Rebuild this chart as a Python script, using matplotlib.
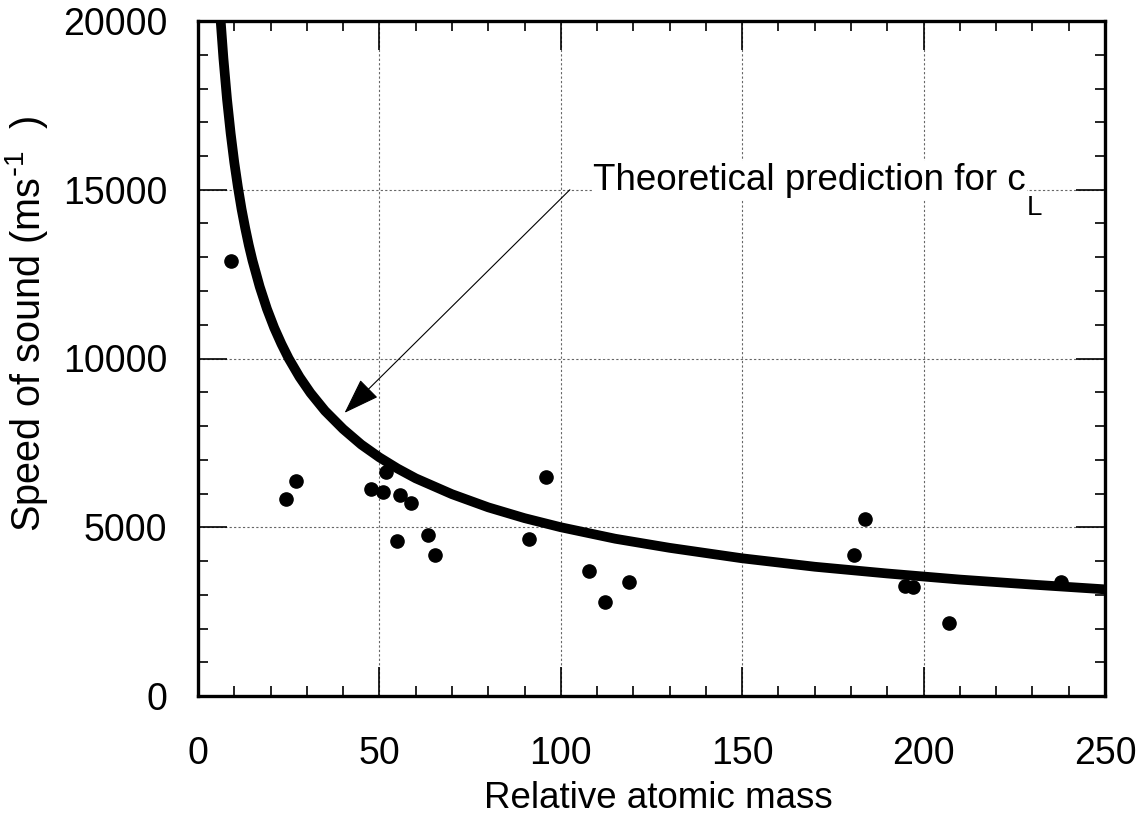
import matplotlib
matplotlib.use("Agg")
import matplotlib.pyplot as plt
from matplotlib.ticker import MultipleLocator

plt.rcParams['font.family'] = ['Liberation Sans', 'DejaVu Sans']
plt.rcParams['mathtext.default'] = 'regular'

# Measured data (relative atomic mass, speed of sound in m/s)
mass = [9.0, 24.3, 26.9, 47.8, 51.0, 51.9, 55.8, 58.6, 54.9, 63.4, 65.3,
        96.0, 91.3, 107.9, 112.3, 118.7,
        183.8, 180.8, 194.9, 197.0, 207.1, 237.9]
speed = [12890, 5830, 6380, 6120, 6035, 6630, 5955, 5710, 4600, 4760, 4190,
         6490, 4660, 3700, 2785, 3380,
         5245, 4170, 3260, 3240, 2175, 3390]

# Theoretical prediction curve
curve_mass = [6.25, 7, 8, 9, 10, 11, 12, 13, 14, 15, 17, 19, 21, 23, 25, 28, 31,
              35, 40, 45, 50, 55, 60, 70, 80, 90, 100, 115, 130, 150, 170, 190,
              210, 230, 250]
curve_speed = [20000, 18900, 17680, 16670, 15810, 15080, 14430, 13870, 13360,
               12910, 12130, 11470, 10910, 10430, 10000, 9450, 8980, 8450, 7910,
               7450, 7070, 6740, 6450, 5980, 5590, 5270, 5000, 4660, 4390, 4080,
               3830, 3630, 3450, 3300, 3160]

x_ticks = [0, 50, 100, 150, 200, 250]
y_ticks = [0, 5000, 10000, 15000, 20000]

fig = plt.figure(figsize=(11.44, 8.18), dpi=100)
ax = fig.add_axes([198/1144, 1-696/818, (1105-198)/1144, (696-21)/818])

ax.plot(curve_mass, curve_speed, color='black', lw=7, solid_capstyle='butt',
        solid_joinstyle='round', zorder=3)
ax.plot(mass, speed, 'o', color='black', ms=9.5, zorder=4)

ax.set_xlim(0, 250)
ax.set_ylim(0, 20000)
ax.set_xticks(x_ticks)
ax.set_yticks(y_ticks)
ax.xaxis.set_minor_locator(MultipleLocator(10))
ax.yaxis.set_minor_locator(MultipleLocator(1000))

ax.grid(True, which='major', color='#666666', lw=0.8, linestyle=(0, (2, 2)), zorder=1)
ax.tick_params(which='both', direction='in', top=True, right=True, width=1.2,
               colors='black')
ax.tick_params(which='major', length=21, labelsize=27)
ax.tick_params(axis='x', which='major', pad=29)
ax.tick_params(axis='y', which='major', pad=22)
ax.tick_params(which='minor', length=7)
for s in ax.spines.values():
    s.set_linewidth(2.4)

ax.set_xlabel('Relative atomic mass', fontsize=26.5)
ax.xaxis.set_label_coords(0.508, -0.126)
ax.set_ylabel(r'Speed of sound (ms$^{\text{-}1}$  )', fontsize=28.5)
ax.yaxis.set_label_coords(-0.163, 0.552)

ax.annotate('', xy=(40.4, 8390), xytext=(102.5, 15000),
            arrowprops=dict(arrowstyle='-|>,head_length=23,head_width=8',
                            mutation_scale=1, color='black', lw=0.8,
                            shrinkA=0, shrinkB=0), zorder=5)
t = ax.text(108.9, 15000, 'Theoretical prediction for c', fontsize=26.5,
            va='baseline', ha='left', zorder=5,
            bbox=dict(facecolor='white', edgecolor='none', pad=1))
ax.annotate('L', xy=(1, 0), xycoords=t, xytext=(0.5, 2), textcoords='offset points',
            fontsize=20, va='top', ha='left', zorder=5,
            bbox=dict(facecolor='white', edgecolor='none', pad=1))

fig.savefig('out.png', dpi=100)
